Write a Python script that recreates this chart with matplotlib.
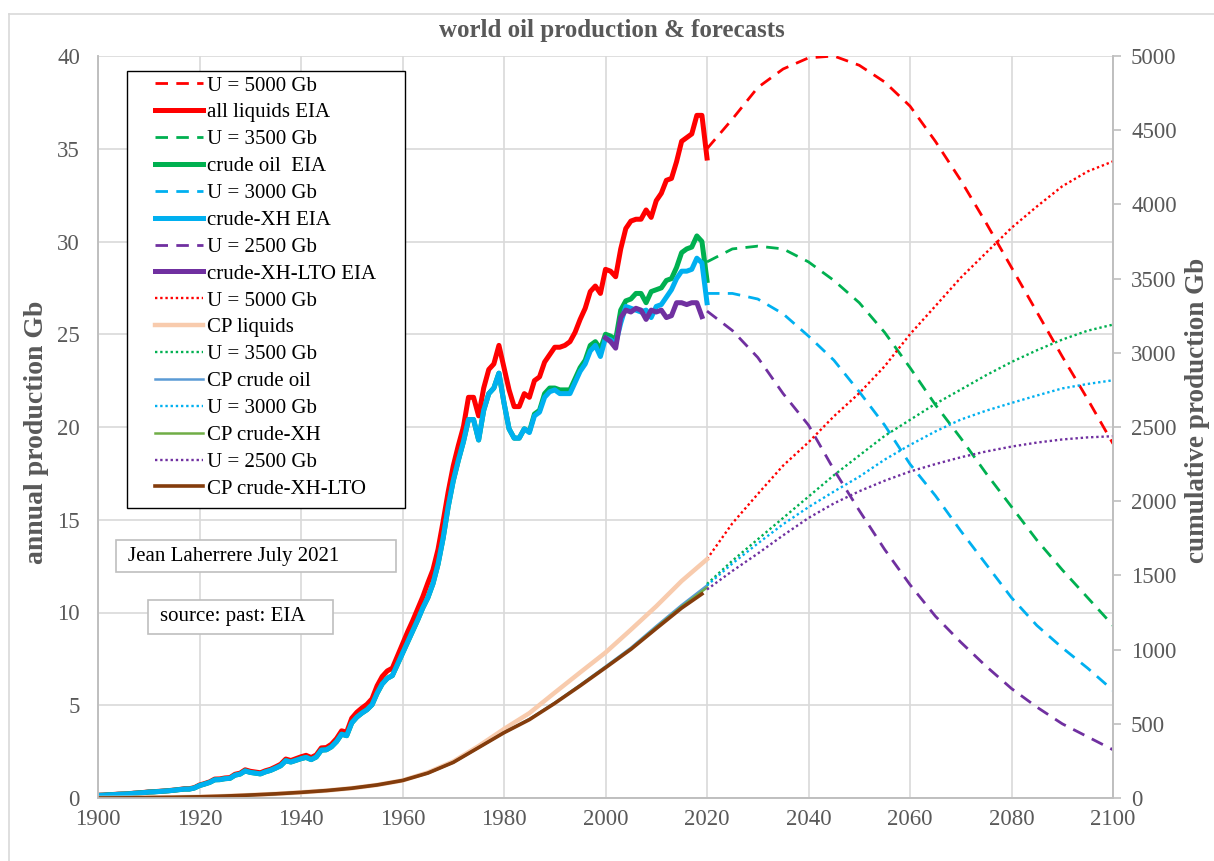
import numpy as np
import matplotlib
matplotlib.use("Agg")
import matplotlib.pyplot as plt
from matplotlib.lines import Line2D
from matplotlib.patches import Rectangle

plt.rcParams['font.family'] = ['Liberation Serif', 'DejaVu Serif']

# ---- data ----
years = list(range(1900, 2021))

all_liquids = [0.15, 0.16, 0.18, 0.19, 0.21, 0.22, 0.23, 0.26, 0.28, 0.30,
               0.33, 0.34, 0.36, 0.38, 0.40, 0.43, 0.46, 0.50, 0.50, 0.56,
               0.70, 0.78, 0.87, 1.02, 1.03, 1.08, 1.10, 1.28, 1.34, 1.52,
               1.44, 1.40, 1.36, 1.47, 1.55, 1.68, 1.82, 2.10, 2.02, 2.12,
               2.22, 2.30, 2.18, 2.32, 2.70, 2.72, 2.90, 3.20, 3.62, 3.55,
               4.30, 4.62, 4.85, 5.05, 5.35, 6.05, 6.55, 6.85, 7.00, 7.65,
               8.30, 8.95, 9.55, 10.2, 10.85, 11.6, 12.3, 13.4, 14.9, 16.5,
               17.9, 19.0, 20.0, 21.6, 21.6, 20.6, 22.1, 23.1, 23.4, 24.4,
               23.2, 22.0, 21.1, 21.1, 21.8, 21.6, 22.5, 22.7, 23.5, 23.9,
               24.3, 24.3, 24.4, 24.6, 25.1, 25.8, 26.4, 27.3, 27.6, 27.2,
               28.5, 28.4, 28.1, 29.6, 30.7, 31.1, 31.2, 31.2, 31.7, 31.3,
               32.2, 32.6, 33.3, 33.4, 34.3, 35.4, 35.6, 35.8, 36.8, 36.8,
               34.5]

crude_xh = [0.14, 0.15, 0.17, 0.18, 0.20, 0.21, 0.22, 0.25, 0.27, 0.29,
            0.32, 0.33, 0.35, 0.37, 0.39, 0.42, 0.45, 0.48, 0.48, 0.54,
            0.67, 0.75, 0.84, 0.98, 0.99, 1.04, 1.06, 1.23, 1.29, 1.46,
            1.38, 1.34, 1.30, 1.41, 1.49, 1.61, 1.74, 2.01, 1.94, 2.03,
            2.12, 2.19, 2.07, 2.21, 2.58, 2.60, 2.76, 3.04, 3.44, 3.36,
            4.05, 4.36, 4.58, 4.76, 5.03, 5.65, 6.15, 6.45, 6.60, 7.20,
            7.80, 8.40, 9.00, 9.60, 10.25, 10.8, 11.55, 12.6, 14.0, 15.7,
            17.1, 18.2, 19.2, 20.4, 20.4, 19.3, 20.9, 21.8, 22.1, 22.9,
            21.3, 19.9, 19.4, 19.4, 19.9, 19.7, 20.6, 20.8, 21.6, 21.9,
            22.0, 21.8, 21.8, 21.8, 22.4, 23.0, 23.4, 24.1, 24.4, 23.8,
            24.8, 24.7, 24.5, 25.6, 26.5, 26.4, 26.3, 26.2, 26.3, 25.9,
            26.5, 26.6, 27.0, 27.4, 28.0, 28.4, 28.4, 28.5, 29.1, 28.85,
            26.7]

# crude oil runs under crude-XH until the mid 1980s
crude_oil = crude_xh[:85] + [
    19.75, 20.7, 20.9, 21.8, 22.1, 22.1, 22.0, 22.0, 22.0, 22.6,
    23.2, 23.6, 24.4, 24.6, 24.2, 25.0, 24.9, 24.7, 26.3, 26.8,
    26.9, 27.2, 27.2, 26.7, 27.3, 27.4, 27.5, 27.9, 28.0, 28.6,
    29.4, 29.6, 29.7, 30.3, 30.0, 27.9]

lto_years = list(range(2000, 2020))
crude_xh_lto = [24.8, 24.6, 24.25, 25.9, 26.3, 26.2, 26.4, 26.3, 25.8, 26.3,
                26.2, 26.3, 25.9, 26.0, 26.7, 26.7, 26.6, 26.7, 26.7, 25.95]

# annual forecasts (left axis)
fc_years = list(range(2020, 2101, 5))
fc_5000 = [35.0, 36.6, 38.3, 39.3, 39.9, 40.0, 39.5, 38.6, 37.3, 35.4,
           33.3, 31.0, 28.6, 26.2, 23.8, 21.5, 19.1]
fc_3500 = [28.9, 29.6, 29.75, 29.6, 28.9, 27.9, 26.7, 25.1, 23.2, 21.2,
           19.4, 17.5, 15.7, 13.9, 12.3, 10.8, 9.3]
fc_3000 = [27.2, 27.2, 26.9, 26.1, 24.9, 23.6, 21.9, 20.1, 18.0, 16.3,
           14.4, 12.6, 10.8, 9.3, 8.1, 7.0, 5.8]
fc_2500 = [26.25, 25.2, 23.75, 21.8, 20.1, 17.7, 15.5, 13.4, 11.5, 9.8,
           8.4, 7.1, 5.9, 4.9, 4.0, 3.3, 2.6]

# cumulative (right axis)
cp_years = list(range(1900, 2021, 5))
cp_liquids = [0, 1, 3, 5, 8, 13, 20, 28, 38, 50, 66, 88, 118, 172, 246, 350,
              465, 572, 710, 846, 980, 1134, 1292, 1462, 1609]
cp_crude = [0, 1, 3, 5, 8, 13, 20, 28, 38, 50, 66, 88, 118, 168, 240, 340,
            442, 532, 642, 762, 886, 1012, 1158, 1300, 1432]
cp_crude_xh = [0, 1, 3, 5, 8, 13, 20, 28, 38, 50, 66, 88, 118, 168, 240, 340,
               441, 530, 640, 759, 882, 1006, 1150, 1290, 1418]
cp_lto_years = list(range(1900, 2020, 5)) + [2019]
cp_crude_xh_lto = [0, 1, 3, 5, 8, 13, 20, 28, 38, 50, 66, 88, 118, 168, 240,
                   340, 440, 528, 638, 756, 878, 1002, 1142, 1280, 1375]

cum_5000 = [1610, 1851, 2048, 2240, 2397, 2572, 2728, 2909, 3125, 3315,
            3506, 3674, 3842, 3986, 4122, 4222, 4290]
cum_3500 = [1442, 1599, 1743, 1887, 2031, 2175, 2308, 2440, 2548, 2656,
            2752, 2849, 2938, 3017, 3089, 3149, 3190]
cum_3000 = [1432, 1580, 1715, 1845, 1960, 2065, 2165, 2280, 2379, 2470,
            2550, 2610, 2662, 2712, 2760, 2790, 2815]
cum_2500 = [1405, 1530, 1647, 1770, 1887, 1985, 2067, 2138, 2200, 2250,
            2296, 2335, 2368, 2395, 2416, 2430, 2438]

RED, GREEN, BLUE, PURPLE = "#FF0000", "#00B050", "#00B0F0", "#7030A0"
GREY = "#595959"

W, H = 1214, 861
fig = plt.figure(figsize=(W / 100, H / 100), dpi=100)
fx = lambda px: px / W
fy = lambda py: 1 - py / H

ax = fig.add_axes([fx(98), fy(798), fx(1113) - fx(98), fy(56) - fy(798)])
ax2 = ax.twinx()

DASH = (4.5, 3.0)
DOT = (1.0, 1.2)
lw_eia, lw_fc, lw_dot = 3.6, 2.0, 1.7

l_u5000, = ax.plot(fc_years, fc_5000, color=RED, lw=lw_fc, dashes=DASH)
l_liq, = ax.plot(years, all_liquids, color=RED, lw=lw_eia, solid_joinstyle="round")
l_u3500, = ax.plot(fc_years, fc_3500, color=GREEN, lw=lw_fc, dashes=DASH)
l_crude, = ax.plot(years, crude_oil, color=GREEN, lw=lw_eia, solid_joinstyle="round")
l_u3000, = ax.plot(fc_years, fc_3000, color=BLUE, lw=lw_fc, dashes=DASH)
l_xh, = ax.plot(years, crude_xh, color=BLUE, lw=lw_eia, solid_joinstyle="round")
l_u2500, = ax.plot(fc_years, fc_2500, color=PURPLE, lw=lw_fc, dashes=DASH)
l_lto, = ax.plot(lto_years, crude_xh_lto, color=PURPLE, lw=lw_eia, solid_joinstyle="round")

c_u5000, = ax2.plot(fc_years, cum_5000, color=RED, lw=lw_dot, dashes=DOT)
c_liq, = ax2.plot(cp_years, cp_liquids, color="#F8CBAD", lw=3.2)
c_u3500, = ax2.plot(fc_years, cum_3500, color=GREEN, lw=lw_dot, dashes=DOT)
c_crude, = ax2.plot(cp_years, cp_crude, color="#5B9BD5", lw=1.8)
c_u3000, = ax2.plot(fc_years, cum_3000, color=BLUE, lw=lw_dot, dashes=DOT)
c_xh, = ax2.plot(cp_years, cp_crude_xh, color="#70AD47", lw=1.8)
c_u2500, = ax2.plot(fc_years, cum_2500, color=PURPLE, lw=lw_dot, dashes=DOT)
c_lto, = ax2.plot(cp_lto_years, cp_crude_xh_lto, color="#843C0C", lw=2.6)

# axes styling
ax.set_xlim(1900, 2100)
ax.set_ylim(0, 40)
ax2.set_ylim(0, 5000)
ax.set_xticks(range(1900, 2101, 20))
ax.set_yticks(range(0, 41, 5))
ax2.set_yticks(range(0, 5001, 500))
ax.grid(True, color="#D9D9D9", lw=1.2)
ax.set_axisbelow(True)
for a in (ax, ax2):
    for s in a.spines.values():
        s.set_color("#BFBFBF")
        s.set_linewidth(1.2)
    a.spines["top"].set_visible(False)
ax.tick_params(axis="both", length=0, labelsize=16.5, labelcolor=GREY)
ax.tick_params(axis="y", pad=13)
ax.tick_params(axis="x", pad=8)
ax2.tick_params(axis="y", length=6, width=1.2, color="#BFBFBF", labelsize=16.5,
                labelcolor=GREY, pad=7)

# frame of the chart area
fig.add_artist(Line2D([fx(9), fx(9)], [fy(14), 0], color="#D9D9D9", lw=1.2))
fig.add_artist(Line2D([fx(9), 1], [fy(14), fy(14)], color="#D9D9D9", lw=1.2))

fig.text(fx(612), fy(31), "world oil production & forecasts", ha="center",
         va="center", fontsize=18, fontweight="bold", color=GREY)
fig.text(fx(37), fy(432), "annual production Gb", rotation=90, ha="center",
         va="center", fontsize=20, fontweight="bold", color=GREY)
fig.text(fx(1197), fy(410), "cumulative production Gb", rotation=90, ha="center",
         va="center", fontsize=19.5, fontweight="bold", color=GREY)

# legend
fig.add_artist(Rectangle((fx(127), fy(508)), fx(405) - fx(127), fy(71) - fy(508),
                         transform=fig.transFigure, facecolor="white",
                         edgecolor="black", lw=1.0, zorder=4))
handles = [l_u5000, l_liq, l_u3500, l_crude, l_u3000, l_xh, l_u2500, l_lto,
           c_u5000, c_liq, c_u3500, c_crude, c_u3000, c_xh, c_u2500, c_lto]
labels = ["U = 5000 Gb", "all liquids EIA", "U = 3500 Gb", "crude oil  EIA",
          "U = 3000 Gb", "crude-XH EIA", "U = 2500 Gb", "crude-XH-LTO EIA",
          "U = 5000 Gb", "CP liquids", "U = 3500 Gb", "CP crude oil",
          "U = 3000 Gb", "CP crude-XH", "U = 2500 Gb", "CP crude-XH-LTO"]
leg = fig.legend(handles, labels, loc="upper left",
                 bbox_to_anchor=(fx(155), fy(76)), frameon=False, fontsize=15,
                 handlelength=2.3, handletextpad=0.2, labelspacing=0.35,
                 borderpad=0.0, borderaxespad=0.0)
leg.set_zorder(5)

# annotation boxes
for (x0, y0, x1, y1), txt in [((116, 540, 396, 572), "Jean Laherrere July 2021"),
                              ((148, 600, 333, 634), "source: past: EIA")]:
    fig.add_artist(Rectangle((fx(x0), fy(y1)), fx(x1) - fx(x0), fy(y0) - fy(y1),
                             transform=fig.transFigure, facecolor="white",
                             edgecolor="#BFBFBF", lw=1.2, zorder=4))
    fig.text(fx(x0 + 12), fy((y0 + y1) / 2), txt, ha="left", va="center",
             fontsize=15, color="black", zorder=5)

fig.savefig("out.png", dpi=100)
